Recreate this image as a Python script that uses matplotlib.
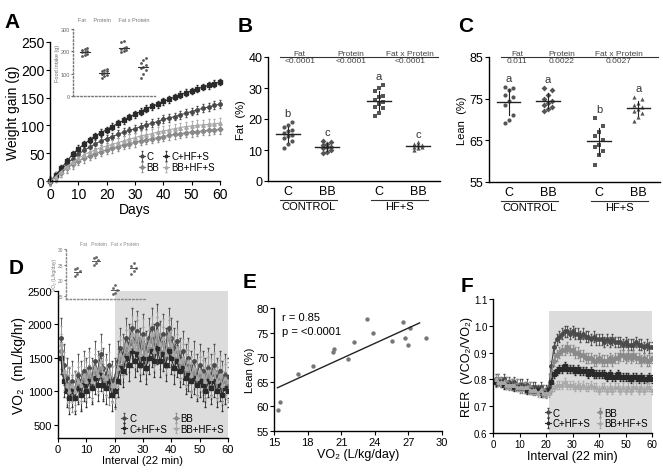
import numpy as np
import matplotlib
matplotlib.use("Agg")
import matplotlib.pyplot as plt

plt.rcParams["font.family"] = ["Liberation Sans", "DejaVu Sans"]
plt.rcParams["axes.linewidth"] = 1.0
plt.rcParams["xtick.direction"] = "out"
plt.rcParams["ytick.direction"] = "out"

# groups shared by every panel
groups = ["C", "BB", "C+HF+S", "BB+HF+S"]
colors = ["#4a4a4a", "#8a8a8a", "#2a2a2a", "#a8a8a8"]
markers = ["o", "D", "s", "^"]

# A: weight gain over time (every 2 days)
days = np.arange(0, 61, 2)
gain = {
    "C+HF+S": [0, 10, 23, 36, 48, 58, 66, 74, 81, 87, 92, 98, 104, 109, 115, 120,
               125, 130, 134, 138, 143, 147, 151, 155, 159, 162, 166, 169, 172, 175, 178],
    "C": [0, 9, 20, 31, 40, 48, 55, 61, 67, 72, 76, 80, 84, 88, 91, 94,
          98, 101, 104, 107, 111, 113, 116, 119, 122, 125, 128, 131, 133, 136, 138],
    "BB+HF+S": [0, 8, 17, 26, 34, 41, 47, 52, 56, 60, 63, 66, 69, 72, 75, 78,
                81, 83, 85, 88, 90, 92, 94, 96, 98, 99, 100, 101, 102, 103, 104],
    "BB": [0, 7, 15, 23, 30, 36, 41, 45, 49, 53, 56, 59, 62, 65, 67, 70,
           72, 74, 76, 78, 80, 82, 84, 85, 87, 88, 89, 90, 91, 92, 93],
}
gain_sem = {"C": 7, "BB": 8, "C+HF+S": 6, "BB+HF+S": 9}

# A inset: cumulative intake per group
intake = {
    "C": [180, 185, 190, 195, 198, 200, 205, 210, 215],
    "BB": [80, 90, 95, 100, 105, 110, 112, 115, 120],
    "C+HF+S": [195, 200, 205, 210, 215, 220, 240, 245],
    "BB+HF+S": [80, 100, 115, 125, 130, 140, 150, 160, 170],
}

# B: fat (%) and C: lean (%) by diet
fat = {
    "C": [10.5, 12.0, 13.0, 14.0, 14.5, 15.0, 15.5, 16.0, 16.5, 17.5, 18.0, 19.0],
    "BB": [9.0, 9.5, 10.0, 10.5, 11.0, 11.0, 11.5, 12.0, 12.5, 13.0],
    "C+HF+S": [21.0, 22.0, 23.5, 24.0, 25.0, 25.5, 26.0, 27.0, 27.5, 29.0, 30.0, 31.0],
    "BB+HF+S": [10.0, 10.5, 11.0, 11.0, 11.5, 11.5, 12.0, 12.5],
}
fat_letters = ["b", "c", "a", "c"]
fat_p = ["<0.0001", "<0.0001", "<0.0001"]

lean = {
    "C": [69.2, 70.0, 71.0, 73.5, 74.5, 75.5, 76.0, 77.0, 77.5, 77.9],
    "BB": [72.0, 72.5, 73.0, 73.5, 74.0, 74.5, 75.0, 76.0, 77.0, 77.5],
    "C+HF+S": [59.0, 61.5, 62.5, 63.5, 64.0, 65.0, 66.0, 67.0, 68.5, 70.4],
    "BB+HF+S": [69.6, 70.5, 71.5, 72.0, 72.5, 73.0, 73.5, 74.0, 75.0, 75.5],
}
lean_letters = ["a", "a", "b", "a"]
lean_p = ["0.011", "0.0022", "0.0027"]
effects = ["Fat", "Protein", "Fat x Protein"]

# D: VO2 per 22-min interval
intervals = np.arange(1, 61)
vo2 = {
    "C": [1800, 1400, 1200, 1050, 1150, 1000, 1250, 1150, 1300, 1200,
          1350, 1200, 1450, 1300, 1550, 1350, 1250, 1400, 1150, 1200,
          1450, 1650, 1550, 1800, 1700, 1950, 1750, 1900, 1650, 1850,
          1600, 1800, 1950, 1700, 2000, 1750, 1850, 1650, 1950, 1800,
          1650, 1750, 1500, 1600, 1400, 1500, 1300, 1450, 1250, 1400,
          1300, 1200, 1350, 1250, 1400, 1200, 1300, 1150, 1250, 1200],
    "BB": [1600, 1250, 1050, 1100, 950, 1050, 1100, 1000, 1200, 1100,
           1250, 1100, 1300, 1200, 1350, 1150, 1200, 1050, 1100, 1000,
           1300, 1500, 1400, 1650, 1550, 1750, 1600, 1800, 1500, 1700,
           1450, 1650, 1750, 1550, 1850, 1600, 1700, 1500, 1800, 1650,
           1500, 1600, 1400, 1450, 1300, 1350, 1250, 1300, 1150, 1250,
           1200, 1100, 1250, 1150, 1300, 1100, 1200, 1050, 1150, 1100],
    "C+HF+S": [1500, 1150, 1000, 900, 1000, 900, 1050, 950, 1100, 1000,
               1150, 1050, 1200, 1100, 1250, 1100, 1050, 1150, 950, 1000,
               1150, 1350, 1300, 1500, 1400, 1600, 1450, 1550, 1400, 1500,
               1350, 1500, 1600, 1450, 1650, 1450, 1550, 1400, 1600, 1500,
               1350, 1450, 1300, 1350, 1200, 1250, 1150, 1200, 1100, 1150,
               1100, 1000, 1150, 1050, 1150, 1000, 1100, 950, 1050, 1000],
    "BB+HF+S": [1700, 1300, 1100, 1000, 1100, 1000, 1150, 1100, 1250, 1150,
                1300, 1150, 1350, 1250, 1450, 1250, 1200, 1300, 1100, 1100,
                1350, 1550, 1500, 1700, 1650, 1850, 1650, 1850, 1550, 1800,
                1550, 1700, 1850, 1600, 1900, 1700, 1800, 1550, 1850, 1700,
                1550, 1650, 1450, 1500, 1350, 1450, 1250, 1350, 1200, 1300,
                1250, 1150, 1300, 1200, 1300, 1150, 1250, 1100, 1200, 1150],
}
vo2_sem = {"C": 300, "BB": 260, "C+HF+S": 240, "BB+HF+S": 280}

# D inset: daily VO2 per group
vo2_day = {
    "C": [21.5, 22.0, 23.0, 23.5, 24.0],
    "BB": [25.0, 25.5, 26.5, 27.0, 27.5],
    "C+HF+S": [15.5, 16.0, 17.0, 17.5, 18.5],
    "BB+HF+S": [22.0, 23.0, 24.0, 24.5, 25.5],
}

# E: lean mass vs VO2
e_vo2 = [15.4, 15.5, 17.1, 18.5, 20.3, 20.4, 21.6, 22.1, 23.3, 23.8, 25.5, 26.5, 26.7, 27.0, 27.1, 28.6]
e_lean = [59.2, 60.9, 66.6, 68.3, 71.0, 71.6, 69.7, 73.0, 77.8, 74.9, 73.2, 77.1, 74.0, 72.4, 75.9, 73.9]

# F: RER per interval
rer = {
    "C": [0.80, 0.80, 0.79, 0.80, 0.79, 0.79, 0.78, 0.79, 0.78, 0.78,
          0.78, 0.77, 0.78, 0.77, 0.77, 0.77, 0.76, 0.77, 0.76, 0.76,
          0.77, 0.85, 0.92, 0.95, 0.96, 0.97, 0.98, 0.98, 0.97, 0.98,
          0.97, 0.97, 0.96, 0.97, 0.96, 0.96, 0.95, 0.96, 0.95, 0.95,
          0.95, 0.94, 0.95, 0.94, 0.95, 0.94, 0.94, 0.94, 0.93, 0.94,
          0.93, 0.93, 0.93, 0.94, 0.93, 0.93, 0.92, 0.93, 0.92, 0.92],
    "BB": [0.79, 0.80, 0.79, 0.79, 0.79, 0.78, 0.78, 0.78, 0.78, 0.77,
           0.77, 0.77, 0.77, 0.77, 0.76, 0.76, 0.76, 0.76, 0.76, 0.75,
           0.76, 0.82, 0.87, 0.89, 0.90, 0.91, 0.91, 0.92, 0.91, 0.91,
           0.90, 0.90, 0.89, 0.89, 0.88, 0.88, 0.88, 0.87, 0.87, 0.88,
           0.87, 0.87, 0.87, 0.88, 0.87, 0.88, 0.88, 0.89, 0.89, 0.88,
           0.89, 0.88, 0.89, 0.88, 0.88, 0.87, 0.88, 0.87, 0.87, 0.88],
    "C+HF+S": [0.79, 0.79, 0.79, 0.78, 0.78, 0.78, 0.78, 0.77, 0.77, 0.77,
               0.77, 0.77, 0.76, 0.76, 0.76, 0.76, 0.76, 0.75, 0.75, 0.75,
               0.76, 0.79, 0.82, 0.83, 0.84, 0.84, 0.85, 0.84, 0.84, 0.84,
               0.83, 0.84, 0.83, 0.83, 0.83, 0.82, 0.83, 0.82, 0.82, 0.82,
               0.82, 0.82, 0.81, 0.82, 0.81, 0.81, 0.82, 0.81, 0.81, 0.81,
               0.81, 0.80, 0.81, 0.81, 0.80, 0.81, 0.80, 0.80, 0.81, 0.80],
    "BB+HF+S": [0.80, 0.79, 0.79, 0.79, 0.78, 0.78, 0.78, 0.78, 0.77, 0.77,
                0.77, 0.77, 0.77, 0.76, 0.76, 0.76, 0.75, 0.76, 0.75, 0.75,
                0.75, 0.76, 0.77, 0.78, 0.78, 0.78, 0.79, 0.78, 0.78, 0.78,
                0.77, 0.78, 0.77, 0.78, 0.77, 0.77, 0.78, 0.77, 0.77, 0.76,
                0.77, 0.77, 0.76, 0.77, 0.76, 0.77, 0.77, 0.76, 0.77, 0.76,
                0.77, 0.76, 0.77, 0.77, 0.76, 0.77, 0.76, 0.77, 0.77, 0.76],
}
rer_sem = {"C": 0.02, "BB": 0.02, "C+HF+S": 0.015, "BB+HF+S": 0.015}

W, H = 663, 477


def px_axes(fig, x0, x1, y_top, y_bot):
    return fig.add_axes([x0 / W, 1 - y_bot / H, (x1 - x0) / W, (y_bot - y_top) / H])


def clean(ax, fs):
    for s in ("top", "right"):
        ax.spines[s].set_visible(False)
    ax.tick_params(labelsize=fs, length=3, width=0.8, pad=1)


fig = plt.figure(figsize=(W / 100, H / 100), dpi=100)

# ---- A
axA = px_axes(fig, 50, 220, 43, 182)
clean(axA, 10)
for g, c, m in zip(groups, colors, markers):
    axA.errorbar(days, gain[g], yerr=gain_sem[g], color=c, marker=m, ms=2.5,
                 lw=0.8, elinewidth=0.6, capsize=1, label=g, clip_on=False)
axA.set_xlim(0, 60)
axA.set_ylim(0, 250)
axA.set_xticks(range(0, 61, 10))
axA.set_yticks(range(0, 251, 50))
axA.set_xlabel("Days", fontsize=10, labelpad=1)
axA.set_ylabel("Weight gain (g)", fontsize=10, labelpad=1)
axA.legend(ncol=2, fontsize=7, frameon=False, loc="lower right", bbox_to_anchor=(1.02, 0.0),
           handlelength=0.6, handletextpad=0.2, columnspacing=0.4, labelspacing=0.1,
           markerscale=0.8)

insA = px_axes(fig, 73, 155, 30, 97)
for s in ("top", "right"):
    insA.spines[s].set_visible(False)
for s in ("left", "bottom"):
    insA.spines[s].set_linestyle(":")
    insA.spines[s].set_color("#777777")
insA.patch.set_alpha(0)
for i, (g, c) in enumerate(zip(groups, colors)):
    v = np.array(intake[g])
    off = ((np.arange(len(v)) % 3) - 1) * 0.12
    insA.scatter(i + 1 + off, v, s=4, color="#555555", lw=0)
    insA.plot([i + 0.75, i + 1.25], [v.mean()] * 2, color="#333333", lw=0.8)
insA.set_xlim(0.4, 4.6)
insA.set_ylim(0, 300)
insA.set_xticks([])
insA.set_yticks([0, 100, 200, 300])
insA.tick_params(labelsize=4, length=1.5, pad=0.5, colors="#666666")
insA.set_ylabel("Food intake (g)", fontsize=4, color="#666666", labelpad=0.5)
insA.text(0.5, 1.12, "Fat     Protein     Fat x Protein", transform=insA.transAxes,
          fontsize=4, color="#777777", ha="center")

# ---- B / C dot plots
pos = [0.5, 1.5, 2.8, 3.8]


def dot_panel(ax, data, letters, pvals, ylim, yticks, ylabel, head_x):
    clean(ax, 9)
    for i, g in enumerate(groups):
        v = np.array(data[g])
        off = ((np.arange(len(v)) % 3) - 1) * 0.1
        ax.scatter(pos[i] + off, v, s=9, color="#555555", marker=markers[i], lw=0)
        m, sd = v.mean(), v.std()
        ax.plot([pos[i] - 0.3, pos[i] + 0.3], [m, m], color="#222222", lw=1.0)
        ax.plot([pos[i], pos[i]], [m - sd, m + sd], color="#222222", lw=0.8)
        ax.text(pos[i], v.max() + (ylim[1] - ylim[0]) * 0.03, letters[i],
                ha="center", va="bottom", fontsize=8, color="#333333")
    ax.set_xlim(0, 4.35)
    ax.set_ylim(*ylim)
    ax.set_yticks(yticks)
    ax.set_xticks([])
    ax.set_ylabel(ylabel, fontsize=8, labelpad=2)
    top = ylim[1]
    ax.plot([0.3, 4.3], [top, top], color="#333333", lw=0.8, clip_on=False)
    for x, name, p in zip(head_x, effects, pvals):
        ax.text(x, top, name, fontsize=6, ha="center", va="bottom", color="#444444")
        ax.text(x, top, p, fontsize=6, ha="center", va="top", color="#444444")
    tr = ax.get_xaxis_transform()
    for i, g in enumerate(groups):
        ax.text(pos[i], -0.03, g.split("+")[0], transform=tr, ha="center", va="top", fontsize=9)
    for x0, x1, name in [(0.3, 1.75, "CONTROL"), (2.6, 4.05, "HF+S")]:
        ax.plot([x0, x1], [-0.15, -0.15], transform=tr, color="#333333", lw=0.8, clip_on=False)
        ax.text((x0 + x1) / 2, -0.16, name, transform=tr, ha="center", va="top", fontsize=8)


axB = px_axes(fig, 268, 440, 58, 182)
dot_panel(axB, fat, fat_letters, fat_p, (0, 40), range(0, 41, 10), "Fat  (%)", [0.8, 2.1, 3.6])
axC = px_axes(fig, 489, 660, 58, 183)
dot_panel(axC, lean, lean_letters, lean_p, (55, 85), [55, 65, 75, 85], "Lean  (%)", [0.72, 1.85, 3.3])

# ---- D
axD = px_axes(fig, 58, 228, 292, 439)
clean(axD, 8)
axD.axvspan(20, 60, color="#dcdcdc", lw=0, zorder=0)
for g, c, m in zip(groups, colors, markers):
    axD.errorbar(intervals, vo2[g], yerr=vo2_sem[g], color=c, marker=m, ms=2.5,
                 lw=0.8, elinewidth=0.6, capsize=1, label=g)
axD.set_xlim(0, 60)
axD.set_ylim(300, 2500)
axD.set_xticks(range(0, 61, 10))
axD.set_yticks(range(500, 2501, 500))
axD.set_xlabel("Interval (22 min)", fontsize=8, labelpad=1)
axD.set_ylabel("VO₂  (mL/kg/hr)", fontsize=10, labelpad=1)
hD, lD = axD.get_legend_handles_labels()
order = [0, 2, 1, 3]
axD.legend([hD[i] for i in order], [lD[i] for i in order], ncol=2, fontsize=7, frameon=False,
           loc="lower right", bbox_to_anchor=(1.03, -0.03), handlelength=0.6,
           handletextpad=0.2, columnspacing=0.6, labelspacing=0.05, markerscale=0.8)

insD = px_axes(fig, 66, 145, 250, 300)
for s in ("top", "right"):
    insD.spines[s].set_visible(False)
for s in ("left", "bottom"):
    insD.spines[s].set_linestyle(":")
    insD.spines[s].set_color("#888888")
insD.patch.set_alpha(0)
for i, g in enumerate(groups):
    v = np.array(vo2_day[g])
    off = ((np.arange(len(v)) % 3) - 1) * 0.12
    insD.scatter(i + 1 + off, v, s=4, color="#666666", lw=0)
    insD.plot([i + 0.8, i + 1.2], [v.mean()] * 2, color="#555555", lw=0.7)
insD.set_xlim(0.4, 4.6)
insD.set_ylim(14, 30)
insD.set_xticks([])
insD.set_yticks([15, 20, 25, 30])
insD.tick_params(labelsize=3.5, length=1.5, pad=0.5, colors="#777777")
insD.set_ylabel("VO₂ (L/kg/day)", fontsize=3.5, color="#777777", labelpad=0.5)
insD.text(0.55, 1.08, "Fat   Protein   Fat x Protein", transform=insD.transAxes,
          fontsize=3.5, color="#888888", ha="center")

# ---- E
axE = px_axes(fig, 274, 442, 309, 432)
clean(axE, 8)
axE.scatter(e_vo2, e_lean, s=10, color="#777777", lw=0)
slope, icpt = np.polyfit(e_vo2, e_lean, 1)
xl = np.array([15.3, 28.0])
axE.plot(xl, slope * xl + icpt, color="#222222", lw=1.0)
axE.set_xlim(15, 30)
axE.set_ylim(55, 80)
axE.set_xticks(range(15, 31, 3))
axE.set_yticks(range(55, 81, 5))
axE.set_xlabel("VO₂ (L/kg/day)", fontsize=9, labelpad=1)
axE.set_ylabel("Lean (%)", fontsize=8, labelpad=1)
axE.text(0.05, 0.97, "r = 0.85", transform=axE.transAxes, fontsize=8, va="top")
axE.text(0.05, 0.85, "p = <0.0001", transform=axE.transAxes, fontsize=8, va="top")

# ---- F
axF = px_axes(fig, 493, 652, 300, 434)
clean(axF, 7)
axF.axvspan(21, 60, ymax=0.91, color="#dcdcdc", lw=0, zorder=0)
for g, c, m in zip(groups, colors, markers):
    axF.errorbar(intervals, rer[g], yerr=rer_sem[g], color=c, marker=m, ms=2.5,
                 lw=0.8, elinewidth=0.6, capsize=1, label=g)
axF.set_xlim(0, 60)
axF.set_ylim(0.6, 1.1)
axF.set_xticks(range(0, 61, 10))
axF.set_yticks([0.6, 0.7, 0.8, 0.9, 1.0, 1.1])
axF.set_xlabel("Interval (22 min)", fontsize=9, labelpad=1)
axF.set_ylabel("RER  (VCO₂/VO₂)", fontsize=9, labelpad=1)
hF, lF = axF.get_legend_handles_labels()
axF.legend([hF[i] for i in order], [lF[i] for i in order], ncol=2, fontsize=7, frameon=False,
           loc="lower right", bbox_to_anchor=(1.03, -0.03), handlelength=0.6,
           handletextpad=0.2, columnspacing=0.6, labelspacing=0.05, markerscale=0.8)

# panel letters
for letter, x, y in [("A", 12, 22), ("B", 245, 27), ("C", 466, 27),
                     ("D", 16, 268), ("E", 250, 283), ("F", 467, 286)]:
    fig.text(x / W, 1 - y / H, letter, fontsize=15, fontweight="bold", ha="center", va="center")

fig.savefig("out.png", dpi=100)
